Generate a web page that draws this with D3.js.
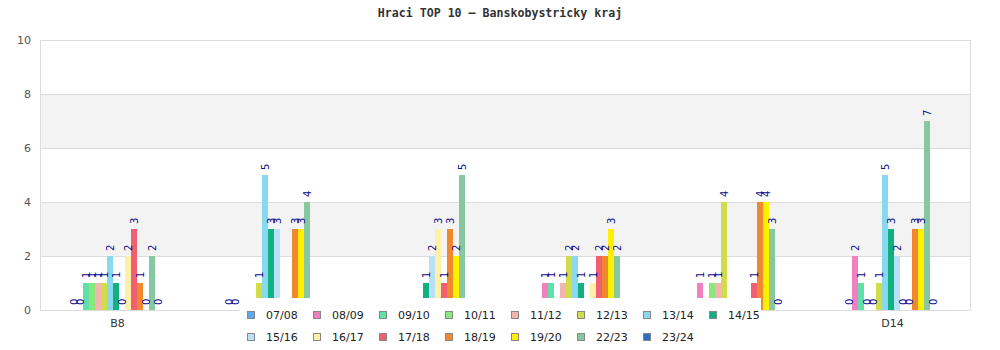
<!DOCTYPE html>
<html>
<head>
<meta charset="utf-8">
<script src="https://cdn.jsdelivr.net/npm/d3@7"></script>
<style>
  body { margin: 0; background: #fff; }
  svg { display: block; }
</style>
</head>
<body>
<svg id="chart" width="1000" height="350"></svg>
<script>
// seasons (series) and their colours
var seasons = ['07/08', '08/09', '09/10', '10/11', '11/12', '12/13', '13/14', '14/15',
  '15/16', '16/17', '17/18', '18/19', '19/20', '22/23', '23/24']
var colors = ['#5ea8f2', '#f080c0', '#5ee0a8', '#88e87c', '#f4b4b0', '#d0dc48', '#88d8f0', '#10b080',
  '#b8e0f8', '#fff0a8', '#f06070', '#f08830', '#fff000', '#88c8a0', '#2a70c0']

// categories; the middle four names sit under the legend and can't be read
var categories = ['B8', '', ' ', '  ', '   ', 'D14']

// one array per category, one value per season (null = no bar)
var valuesB8 = [0, 0, 1, 1, 1, 1, 2, 1, 0, 2, 3, 1, 0, 2, 0]
var values2 = [0, 0, null, null, null, 1, 5, 3, 3, null, null, 3, 3, 4, null]
var values3 = [null, null, null, null, null, null, null, 1, 2, 3, 1, 3, 2, 5, null]
var values4 = [null, 1, 1, null, 1, 2, 2, 1, null, 1, 2, 2, 3, 2, null]
var values5 = [null, 1, null, 1, 1, 4, null, null, null, null, 1, 4, 4, 3, 0]
var valuesD14 = [0, 2, 1, 0, 0, 1, 5, 3, 2, 0, 0, 3, 3, 7, 0]
var allValues = [valuesB8, values2, values3, values4, values5, valuesD14]

var yTicks = [0, 2, 4, 6, 8, 10]

var plotLeft = 40,
  plotRight = 970,
  plotTop = 40,
  plotBottom = 310

var svg = d3.select('#chart')

var x0 = d3.scaleBand().domain(categories).range([plotLeft, plotRight])
var groupW = 90
var x1 = d3.scaleBand().domain(seasons).range([0, groupW])
var y = d3.scaleLinear().domain([0, 10]).range([plotBottom, plotTop])

// alternating bands
var bands = [[2, 4], [6, 8]]
svg.selectAll('rect.band')
  .data(bands)
  .enter()
  .append('rect')
  .attr('class', 'band')
  .attr('x', plotLeft)
  .attr('width', plotRight - plotLeft)
  .attr('y', function(d) { return y(d[1]) })
  .attr('height', function(d) { return y(d[0]) - y(d[1]) })
  .attr('fill', '#f3f3f3')

// y axis + grid lines
var yAxis = svg.append('g')
  .attr('transform', 'translate(' + plotLeft + ',0)')
  .call(d3.axisLeft(y).tickValues(yTicks).tickSize(-(plotRight - plotLeft)).tickPadding(9))
yAxis.select('.domain').remove()
yAxis.selectAll('line').attr('stroke', '#dcdcdc')
yAxis.selectAll('text')
  .attr('fill', '#555')
  .style('font-family', 'DejaVu Sans')
  .style('font-size', '11px')

svg.append('line')
  .attr('x1', plotLeft + 0.5).attr('x2', plotLeft + 0.5)
  .attr('y1', plotTop).attr('y2', plotBottom)
  .attr('stroke', '#dcdcdc')
svg.append('line')
  .attr('x1', plotRight + 0.5).attr('x2', plotRight + 0.5)
  .attr('y1', plotTop).attr('y2', plotBottom)
  .attr('stroke', '#dcdcdc')

// x axis labels
var xAxis = svg.append('g')
  .attr('transform', 'translate(0,' + plotBottom + ')')
  .call(d3.axisBottom(x0).tickSize(0).tickPadding(9))
xAxis.select('.domain').remove()
xAxis.selectAll('text')
  .attr('fill', '#333')
  .style('font-family', 'DejaVu Sans')
  .style('font-size', '11px')

// bars (groups sit a touch left of the band centre)
var groups = svg.selectAll('g.cat')
  .data(allValues)
  .enter()
  .append('g')
  .attr('class', 'cat')
  .attr('transform', function(d, i) {
    return 'translate(' + (x0(categories[i]) + (x0.bandwidth() - groupW) / 2 - 1.5) + ',0)'
  })

function cells(vals) {
  return vals.map(function(v, j) { return { s: seasons[j], v: v, c: colors[j] } })
    .filter(function(d) { return d.v !== null })
}

groups.selectAll('rect')
  .data(cells)
  .enter()
  .append('rect')
  .attr('x', function(d) { return x1(d.s) })
  .attr('width', x1.bandwidth())
  .attr('y', function(d) { return y(d.v) })
  .attr('height', function(d) { return y(0) - y(d.v) })
  .attr('fill', function(d) { return d.c })

groups.selectAll('text')
  .data(cells)
  .enter()
  .append('text')
  .attr('transform', function(d) {
    return 'translate(' + (x1(d.s) + x1.bandwidth() / 2) + ',' + (y(d.v) - 5) + ') rotate(-90)'
  })
  .attr('dy', '0.35em')
  .attr('fill', '#0c0c8c')
  .style('font-family', 'DejaVu Sans')
  .style('font-size', '10px')
  .text(function(d) { return d.v })

// legend, drawn over the lower part of the plot
var legend = svg.append('g')
legend.append('rect')
  .attr('x', 240)
  .attr('y', 298)
  .attr('width', 521)
  .attr('height', 52)
  .attr('fill', '#fff')

var item = legend.selectAll('g.item')
  .data(seasons)
  .enter()
  .append('g')
  .attr('class', 'item')
  .attr('transform', function(d, i) {
    var col = i < 8 ? i : i - 8
    var row = i < 8 ? 0 : 1
    return 'translate(' + (247 + col * 66) + ',' + (315 + row * 22) + ')'
  })
item.append('rect')
  .attr('x', 0.5)
  .attr('y', -3.5)
  .attr('width', 7)
  .attr('height', 7)
  .attr('fill', function(d, i) { return colors[i] })
  .attr('stroke', '#888')
item.append('text')
  .attr('x', 19)
  .attr('dy', '0.35em')
  .attr('fill', '#222')
  .style('font-family', 'DejaVu Sans')
  .style('font-size', '11px')
  .text(function(d) { return d })

// title
svg.append('text')
  .attr('x', 500)
  .attr('y', 13)
  .attr('dy', '0.35em')
  .attr('text-anchor', 'middle')
  .attr('fill', '#333')
  .style('font-family', 'DejaVu Sans Mono')
  .style('font-weight', 'bold')
  .style('font-size', '11.6px')
  .text('Hraci TOP 10 – Banskobystricky kraj')
</script>
</body>
</html>
